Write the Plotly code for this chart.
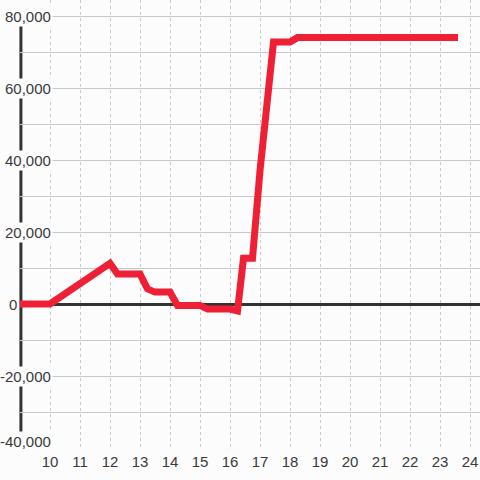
import plotly.graph_objects as go

# ==========================================================
# DATA
# ==========================================================

hours = [9, 10, 12, 12.25, 13, 13.25, 13.5, 14, 14.25, 15, 15.25, 16, 16.25,
         16.45, 16.75, 17, 17.45, 18, 18.25, 23.6]
values = [0, 0, 11300, 8300, 8300, 4200, 3300, 3300, -400, -400, -1400, -1400,
          -1900, 12700, 12700, 37000, 72800, 72800, 74000, 74000]

x_ticks = list(range(10, 25))
y_ticks = [-40000, -20000, 0, 20000, 40000, 60000, 80000]

BG = "#fcfcfc"
TEXT = "#3a3a3a"
GRID = "#c9c9c9"

fig = go.Figure()

fig.add_trace(
    go.Scatter(
        x=hours,
        y=values,
        mode="lines",
        line=dict(color="#ef2035", width=7),
        hoverinfo="skip",
    )
)

# left axis line (stops a bit below the top, as in the original)
fig.add_shape(
    type="line", xref="paper", yref="paper",
    x0=0.002, x1=0.002, y0=0, y1=(448 - 24) / 448,
    line=dict(color="#333333", width=3),
    layer="between",
)

# y labels sit on the axis line, with a background that hides the lines
# (the short "0" label sits at the far left instead)
for v in y_ticks:
    short = v == 0
    fig.add_annotation(
        x=-13 / 460 if short else 33 / 460,
        xref="paper",
        xanchor="left" if short else "right",
        y=v, yref="y", yanchor="middle",
        yshift=7 if v == min(y_ticks) else 0,
        text=f"{v:,}",
        showarrow=False,
        bgcolor=BG,
        borderpad=1,
        font=dict(family="Liberation Sans, Arial", size=15, color=TEXT),
    )

fig.update_layout(
    width=480,
    height=480,
    margin=dict(l=20, r=0, t=0, b=32),
    paper_bgcolor=BG,
    plot_bgcolor=BG,
    showlegend=False,
    font=dict(family="Liberation Sans, Arial", size=15, color=TEXT),
    xaxis=dict(
        range=[9, 24 + 1 / 3],
        tickvals=x_ticks,
        showgrid=True,
        gridcolor=GRID,
        griddash="3px,3px",
        gridwidth=1,
        zeroline=False,
        showline=False,
        ticks="",
        ticklabelstandoff=3,
        tickfont=dict(size=15, color=TEXT),
    ),
    yaxis=dict(
        range=[-40000, 80000 + 16 / 3.6 * 1000],
        dtick=10000,
        showticklabels=False,
        showgrid=True,
        gridcolor=GRID,
        gridwidth=1,
        zeroline=True,
        zerolinecolor="#333333",
        zerolinewidth=3,
        showline=False,
        ticks="",
    ),
)

fig.write_html(
    "out.html",
    config={"displayModeBar": False},
    post_script="document.body.style.margin='0';",
)
